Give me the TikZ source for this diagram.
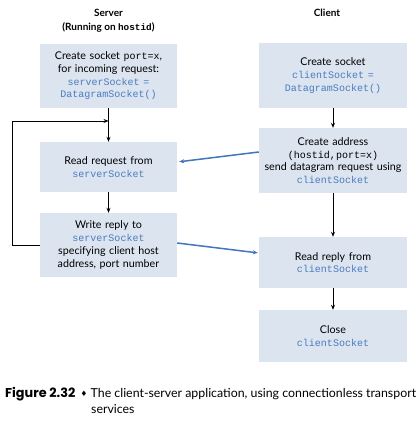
\documentclass[tikz,border=0pt]{standalone}
\usepackage{fontspec}
\usepackage{xcolor}
\setmainfont{Lato}
\setmonofont[Scale=0.935]{Liberation Mono}
\newfontfamily\symfont{DejaVu Sans}
\newfontfamily\capfont{Poppins}
\usetikzlibrary{arrows.meta}
\definecolor{boxfill}{HTML}{DCE4EF}
\definecolor{codeblue}{HTML}{4A7CC0}
\definecolor{linkblue}{HTML}{4275BA}
\newcommand{\sockcode}[1]{{\ttfamily\color{codeblue}#1}}

\begin{document}
\begin{tikzpicture}[
        x = 1pt,
        y = -1pt,
        >={Stealth[length=5pt, width=4pt]},
        font=\fontsize{10.7}{12.7}\selectfont,
        procbox/.style = {fill=boxfill, align=center, inner xsep=0pt, inner ysep=0pt},
        srvbox/.style = {procbox, text width=137pt},
        clibox/.style = {procbox, text width=148pt},
        title/.style = {font=\fontsize{10}{12}\selectfont\bfseries},
        captext/.style = {anchor=base west, inner sep=0pt, font=\fontsize{12.35}{14}\selectfont},
        flow/.style = {->, line width=0.7pt},
        link/.style = {->, draw=linkblue, line width=1.5pt}]
        \useasboundingbox (0,0) rectangle (417,422);
        % NODES
        % server column
        \node[srvbox, minimum height=64pt] (S1) at (108.5,76) {Create socket \texttt{port=x},\\for incoming request:\\\sockcode{serverSocket =}\\\sockcode{DatagramSocket()}};
        \node[srvbox, minimum height=50pt, below of = S1, node distance = 91pt] (S2) {Read request from\\\sockcode{serverSocket}};
        \node[srvbox, minimum height=64pt, below of = S2, node distance = 78pt] (S3) {Write reply to\\\sockcode{serverSocket}\\specifying client host\\address, port number};
        % server title
        \node[title, above of = S1, node distance = 63pt] (Stitle) {Server};
        \node[title, above of = S1, node distance = 49pt] (Srun) {(Running on \texttt{hostid})};
        % client column
        \node[clibox, minimum height=65pt] (C1) at (333,75.5) {Create socket\\\sockcode{clientSocket =}\\\sockcode{DatagramSocket()}};
        \node[clibox, minimum height=65pt, below of = C1, node distance = 85pt] (C2) {Create address\\\texttt{(hostid,port=x)}\\send datagram request using\\\sockcode{clientSocket}};
        \node[clibox, minimum height=51pt, below of = C2, node distance = 102pt] (C3) {Read reply from\\\sockcode{clientSocket}};
        \node[clibox, minimum height=52pt, below of = C3, node distance = 73.5pt] (C4) {Close\\\sockcode{clientSocket}};
        % client title
        \node[title] (Ctitle) at (327,13) {Client};
        % caption nodes
        \node[anchor=base west, inner sep=0pt, font=\capfont\fontsize{12.8}{14}\selectfont\bfseries] (Figlab) at (5,397) {Figure 2.32};
        \node[anchor=base, inner sep=0pt, font=\symfont\fontsize{7.5}{8}\selectfont] (Bullet) at (84,396) {♦};
        \node[captext] (Cap) at (90.5,397) {The client-server application, using connectionless transport};
        \node[captext] (Cap2) at (91,413) {services};

        % ARROWS
        \draw[flow] (S1) -- coordinate[pos=0.38] (join) (S2);
        \draw[flow] (S2) -- (S3);
        \draw[flow] (S3.west) -- ++(-27,0) |- (join);
        \draw[flow] (C1) -- (C2);
        \draw[flow] (C2) -- (C3);
        \draw[flow] (C3) -- (C4);
        \draw[link, shorten >=2pt] ([yshift=8.5pt]C2.west) -- ([yshift=5pt]S2.east);
        \draw[link, shorten >=1pt] ([yshift=2pt]S3.east) -- ([yshift=9.5pt]C3.west);
    \end{tikzpicture}
\end{document}
